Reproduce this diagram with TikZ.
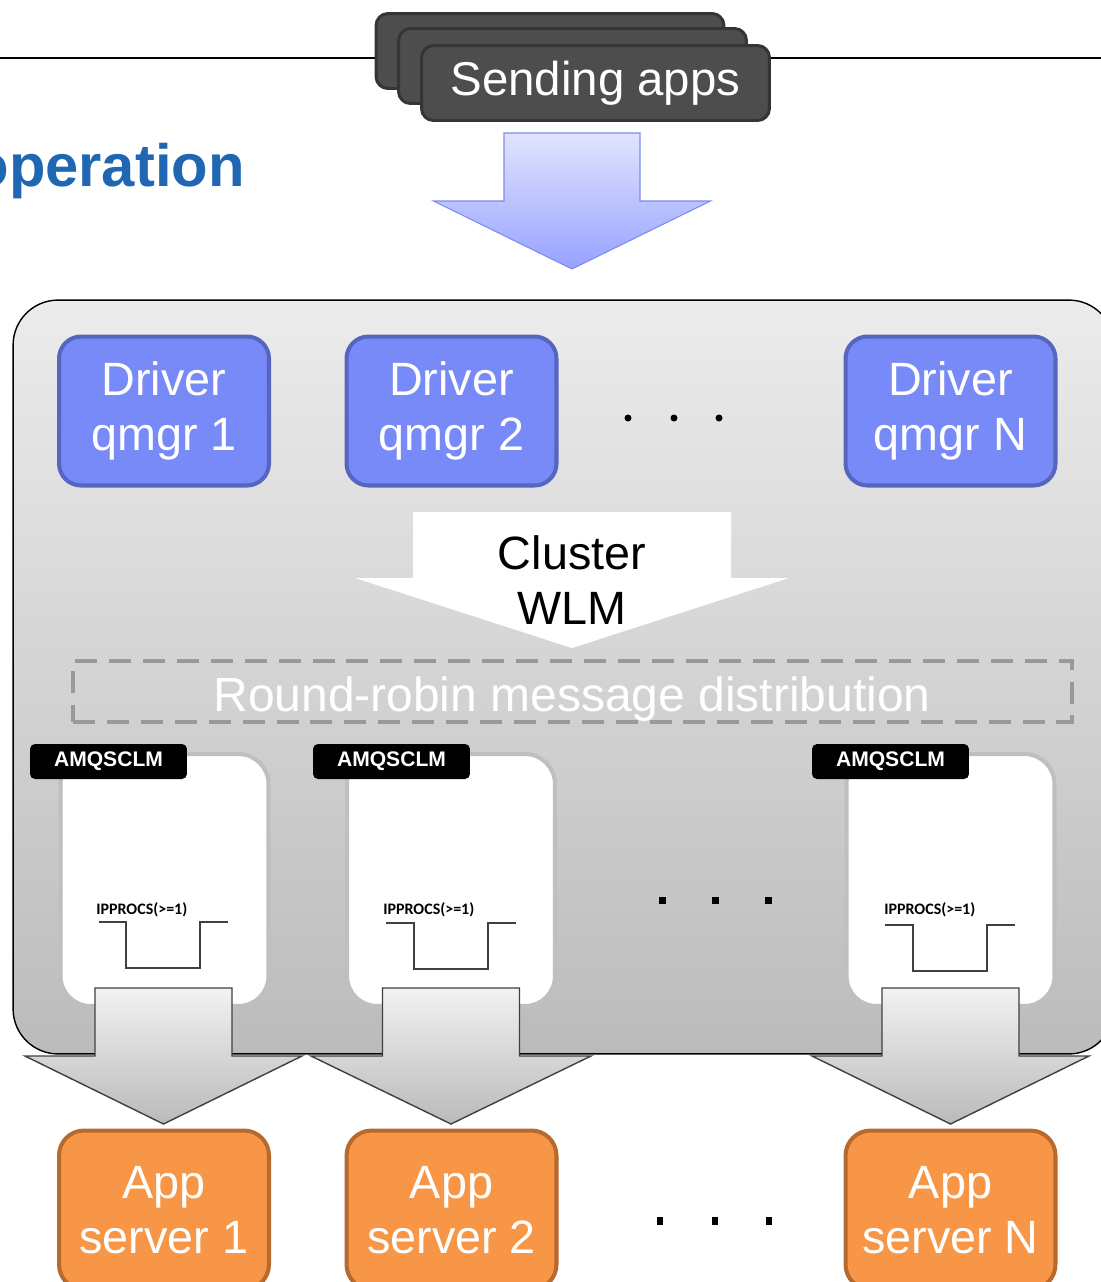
\documentclass[tikz,border=0pt]{standalone}
\usepackage{fontspec}
\setmainfont{Liberation Sans}
\newfontfamily\califont{Carlito}
\usepackage{tikz}

\definecolor{drvfill}{HTML}{7889F8}
\definecolor{drvline}{HTML}{5666BF}
\definecolor{appfill}{HTML}{F79646}
\definecolor{appline}{HTML}{B66A2E}
\definecolor{sendfill}{HTML}{4D4D4D}
\definecolor{sendline}{HTML}{353535}
\definecolor{titleblue}{HTML}{1F66B3}
\definecolor{blueTop}{HTML}{E1E4FF}
\definecolor{blueBot}{HTML}{97A2FF}
\definecolor{blueLine}{HTML}{7F8AF0}
\definecolor{grayTop}{HTML}{F2F2F2}
\definecolor{grayBot}{HTML}{BABABA}
\definecolor{clusTop}{HTML}{ECECEC}
\definecolor{clusBot}{HTML}{BBBBBB}

\newcommand{\boxfont}{\fontsize{26.6}{31.7}\selectfont}

% fat block arrow: [style]{centre x}{top y}{shaft half width}{shaft height}{head half width}{head height}
\newcommand{\fatarrow}[7][]{%
	\path[#1] (#2-#4,#3) -- (#2-#4,#3+#5) -- (#2-#6,#3+#5) -- (#2,#3+#5+#7)
		-- (#2+#6,#3+#5) -- (#2+#4,#3+#5) -- (#2+#4,#3) -- cycle;}

\tikzstyle{sender} = [rectangle, draw=sendline, line width=1.7pt, fill=sendfill, text=white,
rounded corners=0.24cm, minimum width=6.96cm, minimum height=1.5cm, font=\fontsize{27}{32}\selectfont]
\tikzstyle{cluster} = [rectangle, draw=black, line width=0.8pt, top color=clusTop, bottom color=clusBot,
rounded corners=0.9cm, minimum width=22.02cm, minimum height=15.08cm]
\tikzstyle{driver} = [rectangle, draw=drvline, line width=2.3pt, fill=drvfill, text=white, align=center,
rounded corners=0.44cm, minimum width=4.2cm, minimum height=2.98cm, font=\boxfont]
\tikzstyle{appsrv} = [rectangle, draw=appline, line width=2.3pt, fill=appfill, text=white, align=center,
rounded corners=0.5cm, minimum width=4.2cm, minimum height=3.18cm, font=\boxfont]
\tikzstyle{panel} = [rectangle, draw=black!25, line width=2.3pt, fill=white,
rounded corners=0.6cm, minimum width=4.16cm, minimum height=5.04cm]
\tikzstyle{tag} = [rectangle, fill=black, text=white, rounded corners=0.1cm,
minimum width=3.14cm, minimum height=0.7cm, font=\bfseries\fontsize{12}{14}\selectfont]
\tikzstyle{ipp} = [anchor=base west, inner sep=0pt, font=\califont\bfseries\fontsize{9.1}{11}\selectfont]
\tikzstyle{rrbox} = [rectangle, draw=black!40, line width=2.3pt, dash pattern=on 12.5pt off 6.8pt,
minimum width=19.98cm, minimum height=1.22cm]
\tikzstyle{wave} = [draw=black!75, line width=1.2pt]
\tikzstyle{bluearrow} = [draw=blueLine, line width=0.6pt, top color=blueTop, bottom color=blueBot]
\tikzstyle{wlmarrow} = [fill=white]
\tikzstyle{grayarrow} = [draw=black!75, line width=0.8pt, top color=grayTop, bottom color=grayBot]

\begin{document}
\begin{tikzpicture}[x=0.02cm, y=-0.02cm]

	\useasboundingbox (0,0) rectangle (1101,1282);
	\clip (0,0) rectangle (1101,1282);

	% Header
	\draw[line width=1.1pt] (0,58) -- (1101,58);
	\node [anchor=base east, inner sep=0pt, text=titleblue, font=\bfseries\fontsize{34}{40}\selectfont] (title) at (245,186) {operation};

	% Place nodes
	\node [sender] 						(send3) 	at (550,51) 		{};
	\node [sender] 						(send2) 	at (572.5,66) 		{};
	\node [sender] 						(send1) 	at (595.5,83) 		{Sending apps};

	\node [cluster] 					(clus) 		at (563.5,677) 		{};

	\node [driver] 						(drv1) 		at (164,411) 		{Driver\\qmgr 1};
	\node [driver] 						(drv2) 		at (451.5,411) 		{Driver\\qmgr 2};
	\node [driver] 						(drvN) 		at (950.5,411) 		{Driver\\qmgr N};

	\node [rrbox] 						(rr) 		at (572.5,691.5) 	{};

	\node [panel] 						(pan1) 		at (164.5,880) 		{};
	\node [panel] 						(pan2) 		at (451,880) 		{};
	\node [panel] 						(panN) 		at (950.5,880) 		{};
	\node [tag] 						(tag1) 		at (108.5,761.5) 	{AMQSCLM};
	\node [tag] 						(tag2) 		at (391.5,761.5) 	{AMQSCLM};
	\node [tag] 						(tagN) 		at (890.5,761.5) 	{AMQSCLM};
	\node [ipp] 						(ipp1) 		at (96,914) 		{IPPROCS(>=1)};
	\node [ipp] 						(ipp2) 		at (383,914) 		{IPPROCS(>=1)};
	\node [ipp] 						(ippN) 		at (884,914) 		{IPPROCS(>=1)};

	\node [appsrv] 						(app1) 		at (164,1210) 		{App\\server 1};
	\node [appsrv] 						(app2) 		at (451.5,1210) 	{App\\server 2};
	\node [appsrv] 						(appN) 		at (950.5,1210) 	{App\\server N};

	% IPPROCS trace
	\path [wave] (99,922) -- (126,922) -- (126,968) -- (200,968) -- (200,922) -- (228,922);
	\path [wave] (386,923) -- (414,923) -- (414,969) -- (488,969) -- (488,923) -- (516,923);
	\path [wave] (885,925) -- (913,925) -- (913,971) -- (987,971) -- (987,925) -- (1015,925);

	% dots
	\fill (628,418) circle (3.5);
	\fill (674,418) circle (3.5);
	\fill (719,418) circle (3.5);
	\fill (658.5,896.5) rectangle ++(7,7);
	\fill (711.5,896.5) rectangle ++(7,7);
	\fill (764.5,896.5) rectangle ++(7,7);
	\fill (657,1217) rectangle ++(6,8);
	\fill (712,1217) rectangle ++(6,8);
	\fill (766,1217) rectangle ++(6,8);

	%Draw edges
	\fatarrow[bluearrow]{572}{133}{68}{68}{138.5}{68}
	\fatarrow[wlmarrow]{572}{512}{159}{66}{217}{70}
	\node [align=center, font=\boxfont] (wlm) at (572,580) {Cluster\\WLM};
	\node [text=white, font=\fontsize{27.3}{32}\selectfont] (rrtext) at (572,699) {Round-robin message distribution};
	\fatarrow[grayarrow]{163.5}{988}{68.5}{68}{138.5}{68}
	\fatarrow[grayarrow]{451}{988}{68.5}{68}{140}{68}
	\fatarrow[grayarrow]{950.5}{988}{68.5}{68}{138.5}{68}

\end{tikzpicture}
\end{document}
